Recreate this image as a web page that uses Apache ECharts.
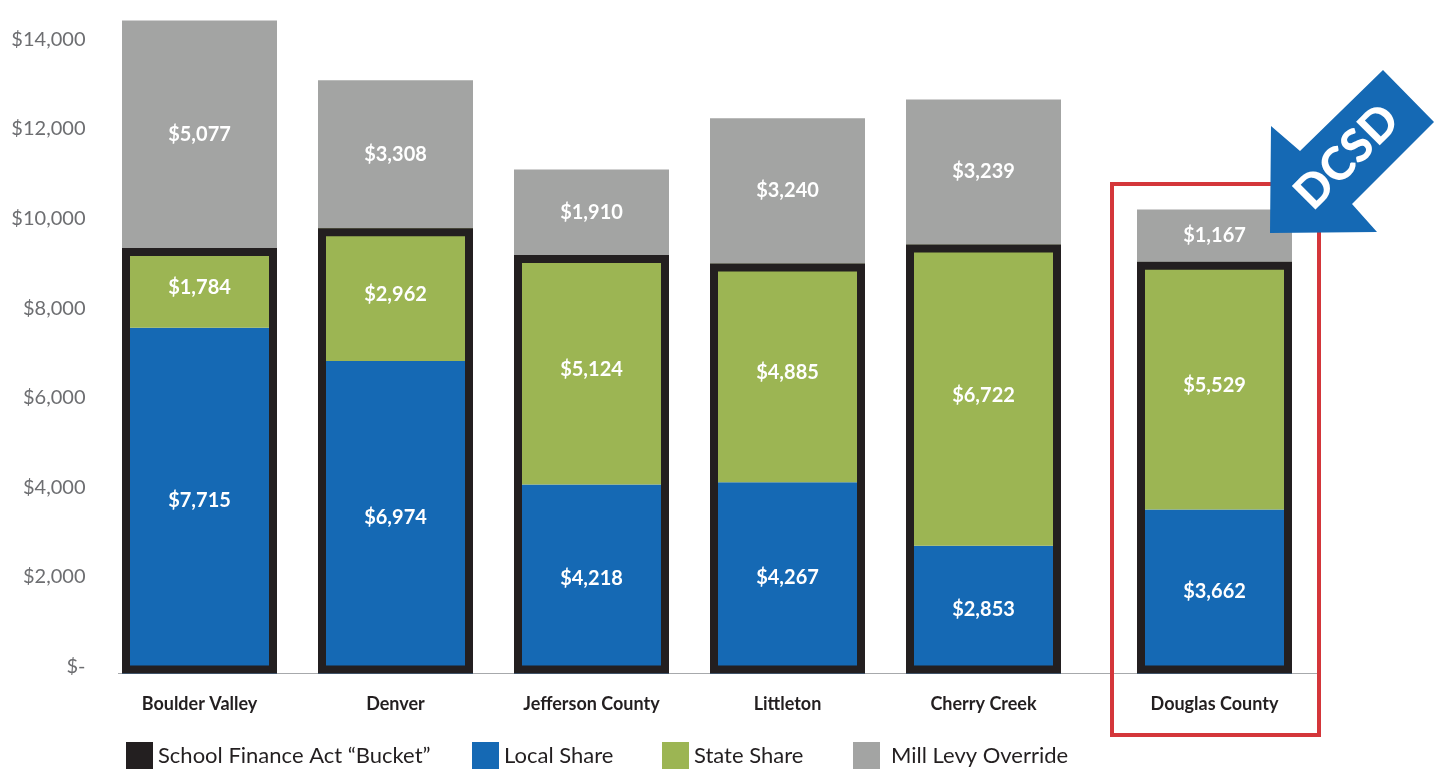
<!DOCTYPE html>
<html>
<head>
<meta charset="utf-8">
<script src="https://cdn.jsdelivr.net/npm/echarts@6/dist/echarts.min.js"></script>
<style>
  html, body { margin: 0; padding: 0; background: #fff; }
  #chart { width: 1441px; height: 770px; }
</style>
</head>
<body>
<div id="chart"></div>
<script>
// districts, Douglas County last (drawn in its own grid)
var categories = ['Boulder Valley', 'Denver', 'Jefferson County', 'Littleton', 'Cherry Creek', 'Douglas County'];
var localShare = [7715, 6974, 4218, 4267, 2853, 3662];
var stateShare = [1784, 2962, 5124, 4885, 6722, 5529];
var millLevy   = [5077, 3308, 1910, 3240, 3239, 1167];
var yTicks = [0, 2000, 4000, 6000, 8000, 10000, 12000, 14000];

var names = ['School Finance Act \u201cBucket\u201d', 'Local Share', 'State Share', 'Mill Levy Override'];
var colors = ['#231f20', '#1569b4', '#9cb553', '#a3a4a3'];

// bucket = local + state
var bucket = localShare.map(function (v, i) { return v + stateShare[i]; });

function money(v) {
    return '$' + v.toLocaleString('en-US');
}

var font = 'Lato';
var valueLabel = {
    show: true,
    position: 'inside',
    color: '#fff',
    fontFamily: font,
    fontWeight: 'bold',
    fontSize: 20,
    formatter: function (p) { return money(p.value); }
};

function makeSeries(axis, from, to) {
    var common = { type: 'bar', xAxisIndex: axis, yAxisIndex: axis, barWidth: 155, barGap: '-100%' };
    var stack = 'total' + axis;
    return [
        Object.assign({}, common, {
            name: names[1], stack: stack, data: localShare.slice(from, to),
            itemStyle: { color: colors[1] }, label: valueLabel
        }),
        Object.assign({}, common, {
            name: names[2], stack: stack, data: stateShare.slice(from, to),
            itemStyle: { color: colors[2] }, label: valueLabel
        }),
        Object.assign({}, common, {
            name: names[3], stack: stack, data: millLevy.slice(from, to),
            itemStyle: { color: colors[3] }, label: valueLabel
        }),
        Object.assign({}, common, {
            name: names[0], data: bucket.slice(from, to), z: 4,
            itemStyle: { color: 'rgba(0,0,0,0)', borderColor: colors[0], borderWidth: 8 },
            silent: true
        })
    ];
}

var yAxisCommon = {
    type: 'value',
    min: yTicks[0],
    max: 15000,
    interval: yTicks[1] - yTicks[0],
    splitLine: { show: false },
    axisLine: { show: false },
    axisTick: { show: false }
};

var xAxisCommon = {
    type: 'category',
    axisLine: { show: false },
    axisTick: { show: false },
    axisLabel: {
        color: '#231f20',
        fontFamily: font,
        fontWeight: 'bold',
        fontSize: 18,
        margin: 22
    }
};

// one legend per item so each sits where it does in the original
var legendLeft = [121, 467, 657, 848];
var legends = names.map(function (n, i) {
    return {
        left: legendLeft[i],
        top: 737,
        itemWidth: 27,
        itemHeight: 27,
        icon: 'rect',
        selectedMode: false,
        textStyle: { color: '#231f20', fontFamily: font, fontSize: 22, padding: [0, 0, 0, i === 3 ? 6 : 0] },
        data: [{ name: n, itemStyle: { color: colors[i], borderWidth: 0 } }]
    };
});

var option = {
    animation: false,
    grid: [
        { left: 101.5, width: 980, top: 1.5, bottom: 96.5 },
        { left: 1116.5, width: 196, top: 1.5, bottom: 96.5 }
    ],
    xAxis: [
        Object.assign({}, xAxisCommon, { gridIndex: 0, data: categories.slice(0, 5) }),
        Object.assign({}, xAxisCommon, { gridIndex: 1, data: categories.slice(5) })
    ],
    yAxis: [
        Object.assign({}, yAxisCommon, {
            gridIndex: 0,
            axisLabel: {
                color: '#6d6e71',
                fontFamily: font,
                fontSize: 20,
                margin: 16,
                verticalAlign: 'bottom',
                lineHeight: 14,
                showMaxLabel: false,
                formatter: function (v) { return v === 0 ? '$-' : money(v); }
            }
        }),
        Object.assign({}, yAxisCommon, { gridIndex: 1, axisLabel: { show: false } })
    ],
    legend: legends,
    series: makeSeries(0, 0, 5).concat(makeSeries(1, 5, 6))
};

var myChart = echarts.init(document.getElementById('chart'));
myChart.setOption(option);

// baseline, Douglas County frame and the DCSD arrow
var y0 = myChart.convertToPixel({ yAxisIndex: 0 }, 0);
myChart.setOption({
    graphic: [
        {
            type: 'line', z: 0,
            shape: { x1: 118, y1: y0, x2: 1318, y2: y0 },
            style: { stroke: '#a7a9ac', lineWidth: 1.2 }
        },
        {
            type: 'rect', z: 5,
            shape: { x: 1112, y: 184, width: 207, height: 551 },
            style: { fill: null, stroke: '#d4363a', lineWidth: 4 }
        },
        {
            type: 'polygon', z: 6,
            shape: {
                points: [[1270, 233], [1271, 126], [1300, 151], [1383, 70], [1434, 122], [1352, 204], [1377, 232]]
            },
            style: { fill: '#1569b4' }
        },
        {
            type: 'text', z: 7,
            x: 1347, y: 157, rotation: Math.PI / 4,
            style: {
                text: 'DCSD', fill: '#fff', font: '900 46px Lato',
                align: 'center', verticalAlign: 'middle'
            }
        }
    ]
});

window.onresize = function () {
    myChart.resize();
};
</script>
</body>
</html>
